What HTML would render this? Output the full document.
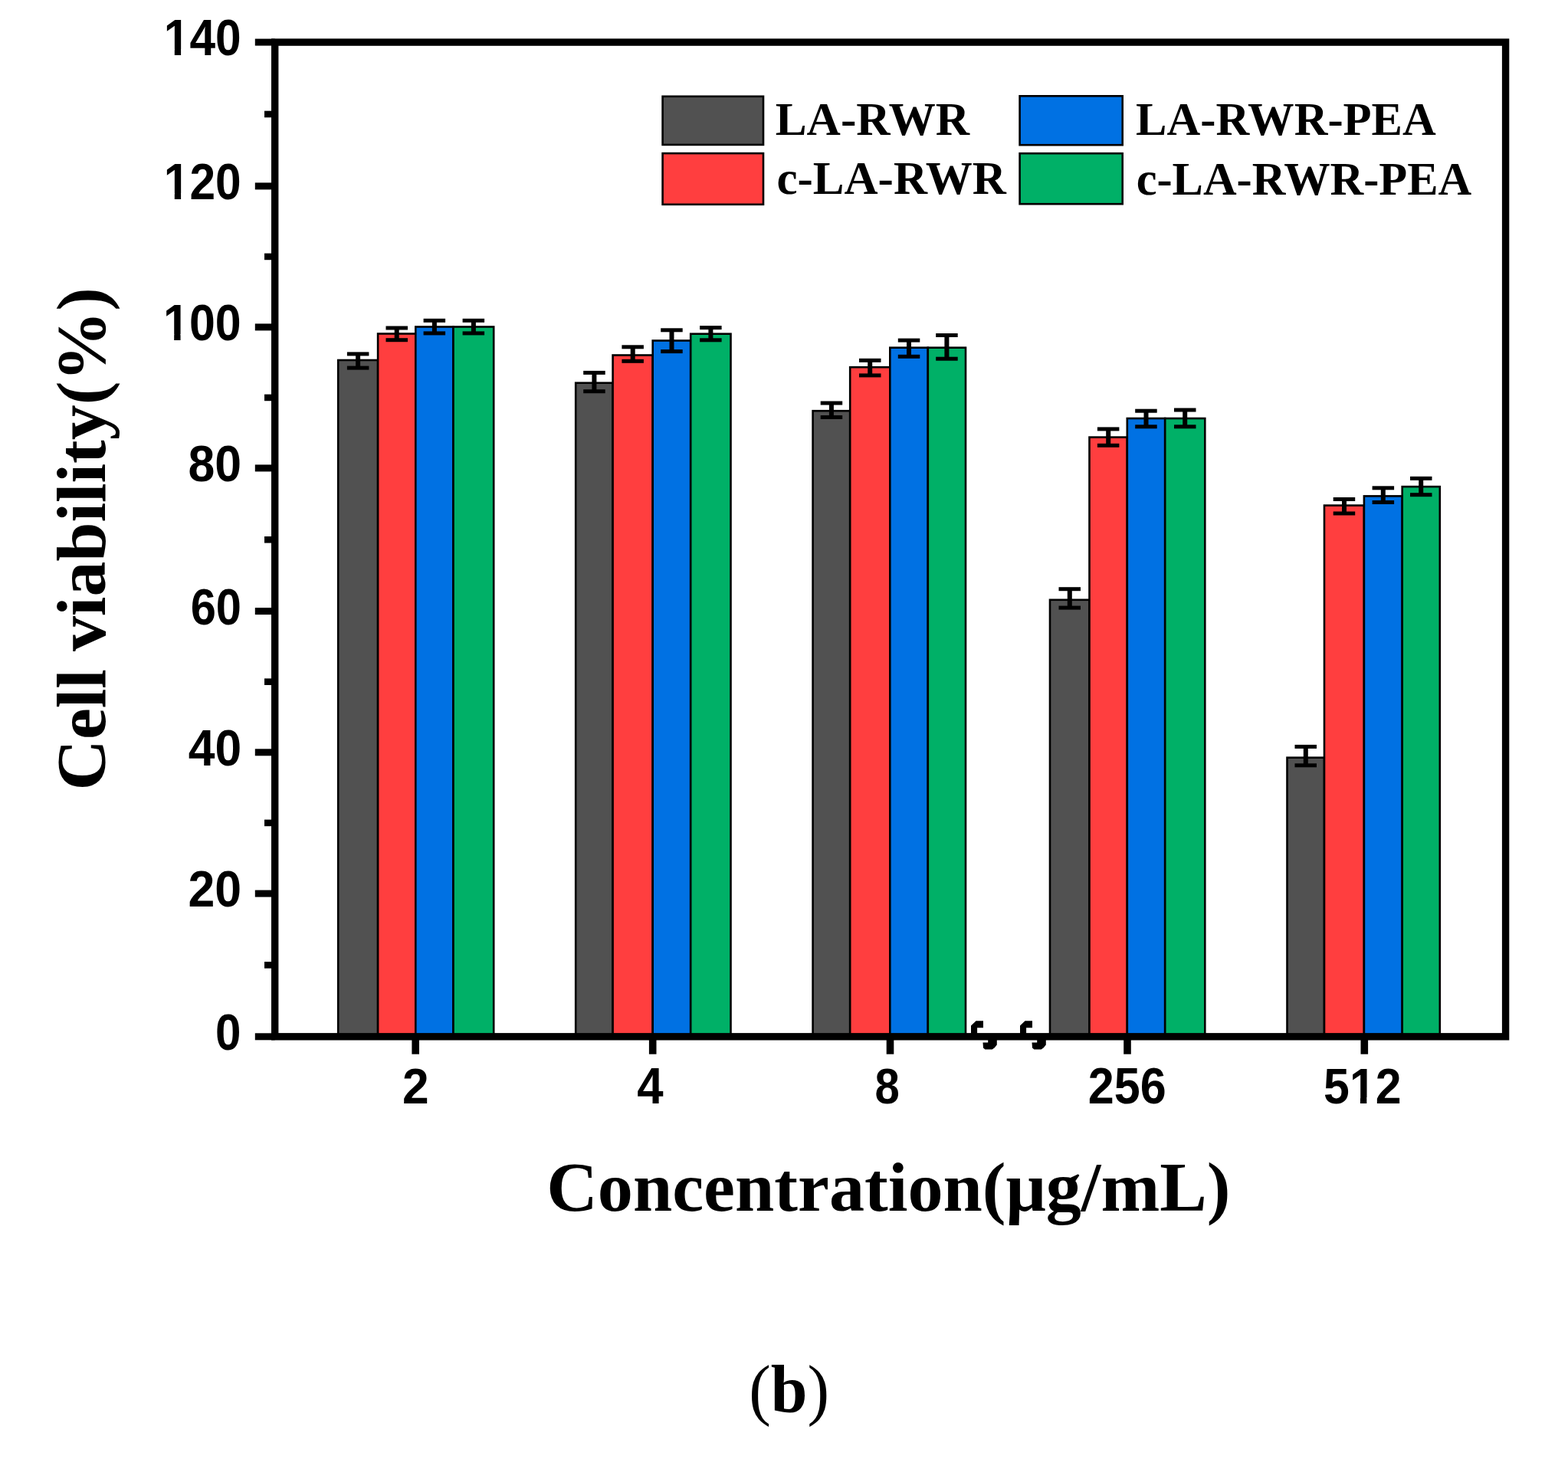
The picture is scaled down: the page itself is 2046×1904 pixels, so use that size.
<!DOCTYPE html><html><head><meta charset="utf-8"><title>Cell viability</title><style>
html,body{margin:0;padding:0;background:#fff;}
body{width:2046px;height:1904px;overflow:hidden;position:relative;}
svg{display:block;position:absolute;left:0;top:0;}
</style></head><body>
<svg width="2046" height="1904" viewBox="0 0 2046 1904">
<rect x="0" y="0" width="2046" height="1904" fill="#fff"/>
<rect x="441.2" y="470.0" width="51.9" height="882.8" fill="#515151" stroke="#000" stroke-width="2.6"/>
<rect x="493.1" y="435.5" width="49.2" height="917.3" fill="#FF3E3F" stroke="#000" stroke-width="2.6"/>
<rect x="542.3" y="426.5" width="49.2" height="926.3" fill="#0071E3" stroke="#000" stroke-width="2.6"/>
<rect x="591.5" y="426.5" width="52.7" height="926.3" fill="#00B067" stroke="#000" stroke-width="2.6"/>
<rect x="751.2" y="499.7" width="48.4" height="853.1" fill="#515151" stroke="#000" stroke-width="2.6"/>
<rect x="799.6" y="463.5" width="52.1" height="889.3" fill="#FF3E3F" stroke="#000" stroke-width="2.6"/>
<rect x="851.7" y="444.5" width="49.5" height="908.3" fill="#0071E3" stroke="#000" stroke-width="2.6"/>
<rect x="901.2" y="435.7" width="52.3" height="917.1" fill="#00B067" stroke="#000" stroke-width="2.6"/>
<rect x="1060.6" y="536.2" width="48.6" height="816.6" fill="#515151" stroke="#000" stroke-width="2.6"/>
<rect x="1109.2" y="479.2" width="52.1" height="873.6" fill="#FF3E3F" stroke="#000" stroke-width="2.6"/>
<rect x="1161.3" y="453.7" width="49.5" height="899.1" fill="#0071E3" stroke="#000" stroke-width="2.6"/>
<rect x="1210.8" y="453.7" width="49.2" height="899.1" fill="#00B067" stroke="#000" stroke-width="2.6"/>
<rect x="1370.0" y="782.8" width="51.5" height="570.0" fill="#515151" stroke="#000" stroke-width="2.6"/>
<rect x="1421.5" y="570.6" width="49.3" height="782.2" fill="#FF3E3F" stroke="#000" stroke-width="2.6"/>
<rect x="1470.8" y="546.0" width="49.4" height="806.8" fill="#0071E3" stroke="#000" stroke-width="2.6"/>
<rect x="1520.2" y="546.0" width="52.1" height="806.8" fill="#00B067" stroke="#000" stroke-width="2.6"/>
<rect x="1679.5" y="988.7" width="48.5" height="364.1" fill="#515151" stroke="#000" stroke-width="2.6"/>
<rect x="1728.0" y="659.6" width="51.9" height="693.2" fill="#FF3E3F" stroke="#000" stroke-width="2.6"/>
<rect x="1779.9" y="647.4" width="49.8" height="705.4" fill="#0071E3" stroke="#000" stroke-width="2.6"/>
<rect x="1829.7" y="635.1" width="49.1" height="717.7" fill="#00B067" stroke="#000" stroke-width="2.6"/>
<rect x="464.1" y="461.9" width="6.0" height="18.2" fill="#000"/>
<rect x="452.9" y="459.4" width="28.5" height="5.0" fill="#000"/>
<rect x="452.9" y="477.6" width="28.5" height="5.0" fill="#000"/>
<rect x="514.7" y="428.0" width="6.0" height="15.7" fill="#000"/>
<rect x="503.5" y="425.5" width="28.5" height="5.0" fill="#000"/>
<rect x="503.5" y="441.2" width="28.5" height="5.0" fill="#000"/>
<rect x="563.9" y="418.3" width="6.0" height="16.6" fill="#000"/>
<rect x="552.6" y="415.8" width="28.5" height="5.0" fill="#000"/>
<rect x="552.6" y="432.4" width="28.5" height="5.0" fill="#000"/>
<rect x="614.9" y="418.3" width="6.0" height="16.6" fill="#000"/>
<rect x="603.6" y="415.8" width="28.5" height="5.0" fill="#000"/>
<rect x="603.6" y="432.4" width="28.5" height="5.0" fill="#000"/>
<rect x="772.4" y="486.4" width="6.0" height="24.3" fill="#000"/>
<rect x="761.2" y="483.9" width="28.5" height="5.0" fill="#000"/>
<rect x="761.2" y="508.2" width="28.5" height="5.0" fill="#000"/>
<rect x="822.7" y="452.8" width="6.0" height="18.5" fill="#000"/>
<rect x="811.4" y="450.3" width="28.5" height="5.0" fill="#000"/>
<rect x="811.4" y="468.8" width="28.5" height="5.0" fill="#000"/>
<rect x="873.5" y="430.8" width="6.0" height="27.8" fill="#000"/>
<rect x="862.2" y="428.3" width="28.5" height="5.0" fill="#000"/>
<rect x="862.2" y="456.1" width="28.5" height="5.0" fill="#000"/>
<rect x="924.4" y="427.6" width="6.0" height="16.2" fill="#000"/>
<rect x="913.1" y="425.1" width="28.5" height="5.0" fill="#000"/>
<rect x="913.1" y="441.3" width="28.5" height="5.0" fill="#000"/>
<rect x="1081.9" y="526.0" width="6.0" height="18.5" fill="#000"/>
<rect x="1070.7" y="523.5" width="28.5" height="5.0" fill="#000"/>
<rect x="1070.7" y="542.0" width="28.5" height="5.0" fill="#000"/>
<rect x="1132.2" y="470.3" width="6.0" height="19.6" fill="#000"/>
<rect x="1121.0" y="467.8" width="28.5" height="5.0" fill="#000"/>
<rect x="1121.0" y="487.4" width="28.5" height="5.0" fill="#000"/>
<rect x="1183.0" y="444.1" width="6.0" height="21.2" fill="#000"/>
<rect x="1171.8" y="441.6" width="28.5" height="5.0" fill="#000"/>
<rect x="1171.8" y="462.8" width="28.5" height="5.0" fill="#000"/>
<rect x="1232.4" y="437.5" width="6.0" height="30.7" fill="#000"/>
<rect x="1221.2" y="435.0" width="28.5" height="5.0" fill="#000"/>
<rect x="1221.2" y="465.7" width="28.5" height="5.0" fill="#000"/>
<rect x="1392.8" y="768.7" width="6.0" height="24.4" fill="#000"/>
<rect x="1381.5" y="766.2" width="28.5" height="5.0" fill="#000"/>
<rect x="1381.5" y="790.6" width="28.5" height="5.0" fill="#000"/>
<rect x="1443.2" y="559.9" width="6.0" height="21.4" fill="#000"/>
<rect x="1431.9" y="557.4" width="28.5" height="5.0" fill="#000"/>
<rect x="1431.9" y="578.8" width="28.5" height="5.0" fill="#000"/>
<rect x="1492.5" y="536.2" width="6.0" height="20.6" fill="#000"/>
<rect x="1481.2" y="533.7" width="28.5" height="5.0" fill="#000"/>
<rect x="1481.2" y="554.3" width="28.5" height="5.0" fill="#000"/>
<rect x="1543.2" y="535.0" width="6.0" height="21.8" fill="#000"/>
<rect x="1532.0" y="532.5" width="28.5" height="5.0" fill="#000"/>
<rect x="1532.0" y="554.3" width="28.5" height="5.0" fill="#000"/>
<rect x="1700.8" y="974.4" width="6.0" height="24.4" fill="#000"/>
<rect x="1689.5" y="971.9" width="28.5" height="5.0" fill="#000"/>
<rect x="1689.5" y="996.3" width="28.5" height="5.0" fill="#000"/>
<rect x="1751.0" y="651.5" width="6.0" height="18.5" fill="#000"/>
<rect x="1739.7" y="649.0" width="28.5" height="5.0" fill="#000"/>
<rect x="1739.7" y="667.5" width="28.5" height="5.0" fill="#000"/>
<rect x="1801.8" y="636.8" width="6.0" height="18.7" fill="#000"/>
<rect x="1790.6" y="634.3" width="28.5" height="5.0" fill="#000"/>
<rect x="1790.6" y="653.0" width="28.5" height="5.0" fill="#000"/>
<rect x="1851.2" y="624.3" width="6.0" height="21.4" fill="#000"/>
<rect x="1840.0" y="621.8" width="28.5" height="5.0" fill="#000"/>
<rect x="1840.0" y="643.2" width="28.5" height="5.0" fill="#000"/>
<rect x="358.7" y="55.1" width="1605.9" height="1297.7" fill="none" stroke="#000" stroke-width="9.4"/>
<rect x="332.8" y="1348.3" width="25.9" height="9.0" fill="#000"/>
<rect x="345.0" y="1255.1" width="13.7" height="8.6" fill="#000"/>
<rect x="332.8" y="1161.6" width="25.9" height="9.0" fill="#000"/>
<rect x="345.0" y="1069.6" width="13.7" height="8.6" fill="#000"/>
<rect x="332.8" y="977.3" width="25.9" height="9.0" fill="#000"/>
<rect x="345.0" y="885.4" width="13.7" height="8.6" fill="#000"/>
<rect x="332.8" y="793.1" width="25.9" height="9.0" fill="#000"/>
<rect x="345.0" y="700.0" width="13.7" height="8.6" fill="#000"/>
<rect x="332.8" y="606.4" width="25.9" height="9.0" fill="#000"/>
<rect x="345.0" y="514.6" width="13.7" height="8.6" fill="#000"/>
<rect x="332.8" y="422.4" width="25.9" height="9.0" fill="#000"/>
<rect x="345.0" y="330.6" width="13.7" height="8.6" fill="#000"/>
<rect x="332.8" y="238.4" width="25.9" height="9.0" fill="#000"/>
<rect x="345.0" y="144.7" width="13.7" height="8.6" fill="#000"/>
<rect x="332.8" y="50.6" width="25.9" height="9.0" fill="#000"/>
<rect x="537.4" y="1352.8" width="9.6" height="22.9" fill="#000"/>
<rect x="846.9" y="1352.8" width="9.6" height="22.9" fill="#000"/>
<rect x="1156.7" y="1352.8" width="9.6" height="22.9" fill="#000"/>
<rect x="1466.2" y="1352.8" width="9.6" height="22.9" fill="#000"/>
<rect x="1775.5" y="1352.8" width="9.6" height="22.9" fill="#000"/>
<polygon points="1273.5,1332.3 1283.0,1332.3 1283.0,1341.2 1275.1,1341.2 1275.1,1350.0 1267.0,1350.0 1267.0,1338.5" fill="#000"/>
<polygon points="1289.2,1354.0 1300.8,1354.0 1300.8,1363.4 1297.8,1367.2 1294.6,1369.6 1285.4,1369.6 1283.0,1367.5 1282.5,1360.5 1289.2,1360.5" fill="#000"/>
<polygon points="1337.5,1332.3 1347.0,1332.3 1347.0,1341.2 1339.1,1341.2 1339.1,1350.0 1331.0,1350.0 1331.0,1338.5" fill="#000"/>
<polygon points="1353.2,1354.0 1364.8,1354.0 1364.8,1363.4 1361.8,1367.2 1358.6,1369.6 1349.4,1369.6 1347.0,1367.5 1346.5,1360.5 1353.2,1360.5" fill="#000"/>
<text transform="translate(280.98,1369.80) scale(0.9400,1.0333)" x="0" y="0" font-family='"Liberation Sans",Arial,sans-serif' font-weight="bold" font-size="64">0</text>
<text transform="translate(245.44,1183.10) scale(0.9788,1.0333)" x="0" y="0" font-family='"Liberation Sans",Arial,sans-serif' font-weight="bold" font-size="64">20</text>
<text transform="translate(245.73,998.80) scale(0.9746,1.0333)" x="0" y="0" font-family='"Liberation Sans",Arial,sans-serif' font-weight="bold" font-size="64">40</text>
<text transform="translate(248.64,814.60) scale(0.9318,1.0333)" x="0" y="0" font-family='"Liberation Sans",Arial,sans-serif' font-weight="bold" font-size="64">60</text>
<text transform="translate(245.44,627.90) scale(0.9788,1.0333)" x="0" y="0" font-family='"Liberation Sans",Arial,sans-serif' font-weight="bold" font-size="64">80</text>
<g transform="translate(213.10,443.90) scale(0.9510,1.0333)">
<text x="0" y="0" font-family='"Liberation Sans",Arial,sans-serif' font-weight="bold" font-size="64">100</text>
<rect x="2.50" y="-7.6" width="12.30" height="8.6" fill="#fff"/>
<rect x="23.60" y="-7.6" width="11.50" height="8.6" fill="#fff"/>
</g>
<g transform="translate(213.82,259.90) scale(0.9440,1.0333)">
<text x="0" y="0" font-family='"Liberation Sans",Arial,sans-serif' font-weight="bold" font-size="64">120</text>
<rect x="2.50" y="-7.6" width="12.30" height="8.6" fill="#fff"/>
<rect x="23.60" y="-7.6" width="11.50" height="8.6" fill="#fff"/>
</g>
<g transform="translate(213.82,72.10) scale(0.9440,1.0333)">
<text x="0" y="0" font-family='"Liberation Sans",Arial,sans-serif' font-weight="bold" font-size="64">140</text>
<rect x="2.50" y="-7.6" width="12.30" height="8.6" fill="#fff"/>
<rect x="23.60" y="-7.6" width="11.50" height="8.6" fill="#fff"/>
</g>
<text transform="translate(524.95,1439.90) scale(0.9742,1.0156)" x="0" y="0" font-family='"Liberation Sans",Arial,sans-serif' font-weight="bold" font-size="64">2</text>
<text transform="translate(831.14,1440.10) scale(0.9647,1.0289)" x="0" y="0" font-family='"Liberation Sans",Arial,sans-serif' font-weight="bold" font-size="64">4</text>
<text transform="translate(1141.58,1440.10) scale(0.9094,1.0178)" x="0" y="0" font-family='"Liberation Sans",Arial,sans-serif' font-weight="bold" font-size="64">8</text>
<text transform="translate(1419.79,1440.00) scale(0.9549,1.0289)" x="0" y="0" font-family='"Liberation Sans",Arial,sans-serif' font-weight="bold" font-size="64">256</text>
<g transform="translate(1727.10,1440.00) scale(0.9500,1.0178)">
<text x="0" y="0" font-family='"Liberation Sans",Arial,sans-serif' font-weight="bold" font-size="64">512</text>
<rect x="38.08" y="-7.6" width="12.30" height="8.6" fill="#fff"/>
<rect x="59.18" y="-7.6" width="11.50" height="8.6" fill="#fff"/>
</g>
<rect x="864.6" y="125.8" width="131.4" height="63.1" fill="#515151" stroke="#000" stroke-width="2.6"/>
<rect x="864.6" y="200.1" width="131.4" height="66.7" fill="#FF3E3F" stroke="#000" stroke-width="2.6"/>
<rect x="1330.6" y="125.3" width="134.1" height="63.9" fill="#0071E3" stroke="#000" stroke-width="2.6"/>
<rect x="1330.6" y="200.2" width="134.1" height="66.0" fill="#00B067" stroke="#000" stroke-width="2.6"/>
<text transform="translate(1011.68,176.30) scale(1.0227,1.0282)" x="0" y="0" font-family='"Liberation Serif","Times New Roman",serif' font-weight="bold" font-size="60">LA-RWR</text>
<text transform="translate(1013.47,253.10) scale(1.0171,1.0282)" x="0" y="0" font-family='"Liberation Serif","Times New Roman",serif' font-weight="bold" font-size="60">c-LA-RWR</text>
<text transform="translate(1482.09,176.10) scale(1.0101,1.0154)" x="0" y="0" font-family='"Liberation Serif","Times New Roman",serif' font-weight="bold" font-size="60">LA-RWR-PEA</text>
<text transform="translate(1482.69,253.50) scale(1.0072,1.0256)" x="0" y="0" font-family='"Liberation Serif","Times New Roman",serif' font-weight="bold" font-size="60">c-LA-RWR-PEA</text>
<text transform="translate(713.20,1580.49) scale(0.9810,0.9712)" x="0" y="0" font-family='"Liberation Serif","Times New Roman",serif' font-weight="bold" font-size="94">Concentration(&#956;g/mL)</text>
<text transform="translate(0,1026.5) rotate(-90) translate(-4.89,136.59) scale(0.9781,0.9658)" x="0" y="0" font-family='"Liberation Serif","Times New Roman",serif' font-weight="bold" font-size="94">Cell viability(%)</text>
<text transform="translate(977.27,1843.36) scale(0.9327,0.9756)" x="0" y="0" font-family='"Liberation Serif","Times New Roman",serif' font-weight="normal" font-size="92">(<tspan font-weight="bold">b</tspan>)</text>
</svg></body></html>
